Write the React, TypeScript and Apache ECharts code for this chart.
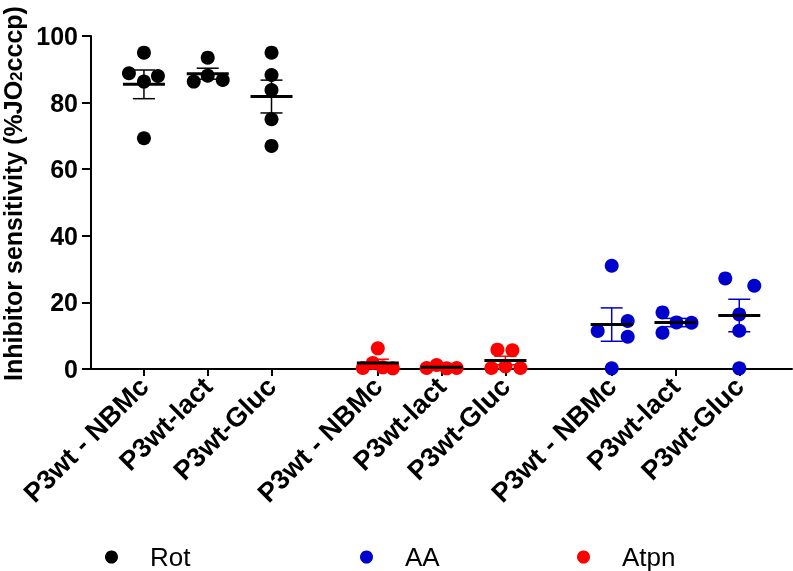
import React, { useEffect, useRef } from "react";
import * as echarts from "echarts";

// Categories (per treatment group) and tick labels
const categories = ["P3wt - NBMc", "P3wt-lact", "P3wt-Gluc"];
const groupOrder = ["Rot", "Atpn", "AA"]; // order along the x axis
const legendOrder = ["Rot", "AA", "Atpn"];

// Values (% JO2 cccp)
const rotValues = [
  [95.0, 88.8, 88.0, 86.3, 69.3],
  [93.5, 86.3, 88.1, 86.8],
  [95.0, 88.3, 83.8, 75.0, 67.0],
];
const atpnValues = [
  [6.2, 0.3, 1.8, 0.5, 0.2],
  [0.3, 1.2, 0.2, 0.3],
  [5.8, 5.6, 0.3, 0.8, 0.3],
];
const aaValues = [
  [31.0, 11.4, 14.4, 9.7, 0.2],
  [17.0, 10.9, 14.0, 13.9],
  [27.2, 25.0, 16.4, 11.5, 0.2],
];

// Horizontal spread (px) of overlapping dots, layout only
const rotJitter = [
  [0, -15, 14, 0, 0],
  [0, -14, 0, 15],
  [0, 0, 0, 0, 0],
];
const atpnJitter = [
  [0, -15, -5, 5, 15],
  [-15, -5, 5, 15],
  [-8, 7, -14, 0, 15],
];
const aaJitter = [
  [0, -14, 16, 16, 0],
  [-13, -13, 1, 16],
  [-14, 15, 0, 0, 0],
];

const yTicks = [0, 20, 40, 60, 80, 100];

const colors: Record<string, string> = { Rot: "#000000", AA: "#0000CC", Atpn: "#FF0000" };
const seriesValues: Record<string, number[][]> = { Rot: rotValues, AA: aaValues, Atpn: atpnValues };
const seriesJitter: Record<string, number[][]> = { Rot: rotJitter, AA: aaJitter, Atpn: atpnJitter };

const GROUP_STEP = 11 / 3;
const pos = (g: number, c: number) => g * GROUP_STEP + c;

const mean = (a: number[]) => a.reduce((s, v) => s + v, 0) / a.length;
const sem = (a: number[]) => {
  const m = mean(a);
  const v = a.reduce((s, x) => s + (x - m) * (x - m), 0) / (a.length - 1);
  return Math.sqrt(v) / Math.sqrt(a.length);
};

const FONT = "'Liberation Sans', Arial, sans-serif";

export default function App() {
  const ref = useRef<HTMLDivElement>(null);
  useEffect(() => {
    if (!ref.current) return;
    const chart = echarts.init(ref.current, null, { renderer: "svg" });

    const tickPositions: number[] = [];
    const tickLabels: string[] = [];
    groupOrder.forEach((_, g) =>
      categories.forEach((cat, c) => {
        tickPositions.push(pos(g, c));
        tickLabels.push(cat);
      })
    );

    const series: any[] = [];
    groupOrder.forEach((name, g) => {
      const vals = seriesValues[name];
      const jit = seriesJitter[name];
      const pts: any[] = [];
      vals.forEach((arr, c) =>
        arr.forEach((v, i) => {
          pts.push({ value: [pos(g, c), v], symbolOffset: [jit[c][i] || 0, 0] });
        })
      );
      series.push({
        type: "scatter",
        name,
        data: pts,
        symbol: "circle",
        symbolSize: 14,
        itemStyle: { color: colors[name], opacity: 1 },
        z: 2,
      });
      const stats = vals.map((arr, c) => [pos(g, c), mean(arr), sem(arr)]);
      series.push({
        type: "custom",
        name: name + " mean",
        data: stats,
        z: 5,
        silent: true,
        renderItem: (params: any, api: any) => {
          const x = api.value(0);
          const m = api.value(1);
          const s = api.value(2);
          const pm = api.coord([x, m]);
          const pt = api.coord([x, m + s]);
          const pb = api.coord([x, m - s]);
          const col = colors[name];
          const ew = 1.5;
          return {
            type: "group",
            children: [
              { type: "line", shape: { x1: pm[0], y1: pt[1], x2: pm[0], y2: pb[1] }, style: { stroke: col, lineWidth: ew } },
              { type: "line", shape: { x1: pm[0] - 11, y1: pt[1], x2: pm[0] + 11, y2: pt[1] }, style: { stroke: col, lineWidth: ew } },
              { type: "line", shape: { x1: pm[0] - 11, y1: pb[1], x2: pm[0] + 11, y2: pb[1] }, style: { stroke: col, lineWidth: ew } },
              { type: "line", shape: { x1: pm[0] - 21, y1: pm[1], x2: pm[0] + 21, y2: pm[1] }, style: { stroke: "#000", lineWidth: 3 } },
            ],
          };
        },
      });
    });

    const legendLefts = [105, 360, 577];
    const legends = legendOrder.map((name, i) => ({
      data: [{ name, icon: "circle" }],
      left: legendLefts[i],
      top: 544,
      padding: 0,
      itemWidth: 13,
      itemHeight: 13,
      textStyle: { fontFamily: FONT, fontSize: 26, color: "#000", padding: [0, 0, 0, 27] },
    }));

    chart.setOption({
      animation: false,
      textStyle: { fontFamily: FONT },
      legend: legends,
      grid: { left: 91, right: 1, top: 36, bottom: 202, containLabel: false, outerBoundsMode: "none" },
      xAxis: {
        type: "value",
        min: -0.83,
        max: 10.16,
        splitLine: { show: false },
        axisLine: { show: true, onZero: false, lineStyle: { color: "#000", width: 2 } },
        axisTick: { show: true, customValues: tickPositions, length: 7, lineStyle: { color: "#000", width: 2 } },
        axisLabel: {
          customValues: tickPositions,
          rotate: 45,
          margin: 13,
          fontSize: 27,
          fontWeight: "bold",
          color: "#000",
          fontFamily: FONT,
          formatter: (v: number) => {
            const i = tickPositions.findIndex((p) => Math.abs(p - v) < 0.01);
            return i >= 0 ? tickLabels[i] : "";
          },
        },
      },
      yAxis: {
        type: "value",
        min: yTicks[0],
        max: yTicks[yTicks.length - 1],
        interval: 20,
        splitLine: { show: false },
        axisLine: { show: true, onZero: false, lineStyle: { color: "#000", width: 2 } },
        axisTick: { show: true, length: 9, lineStyle: { color: "#000", width: 2 } },
        axisLabel: { fontSize: 25, fontWeight: "bold", color: "#000", margin: 13, fontFamily: FONT },
        name: "Inhibitor sensitivity (%JO{sub|2}cccp)",
        nameLocation: "middle",
        nameGap: 62,
        nameRotate: 90,
        nameTextStyle: {
          fontSize: 25,
          fontWeight: "bold",
          color: "#000",
          fontFamily: FONT,
          lineHeight: 25,
          padding: [0, 0, 0, 18],
          rich: {
            sub: { fontSize: 17, fontWeight: "bold", color: "#000", fontFamily: FONT, verticalAlign: "bottom", lineHeight: 17 },
          },
        },
      },
      series,
    });
    return () => chart.dispose();
  }, []);
  return <div ref={ref} style={{ position: "fixed", left: 0, top: 0, width: 793, height: 571 }} />;
}
